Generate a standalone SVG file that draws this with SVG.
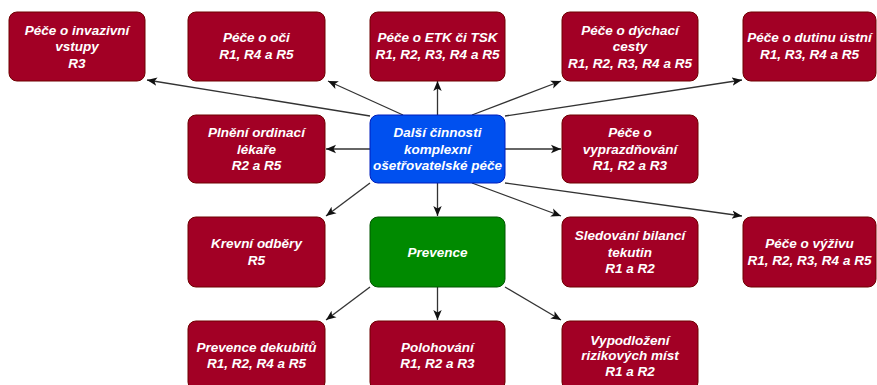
<svg xmlns="http://www.w3.org/2000/svg" width="877" height="385" viewBox="0 0 877 385">
  <style>
    .box { stroke-width: 1; }
    .red { fill: #a20025; stroke: #6f0000; }
    .blue { fill: #0050ef; stroke: #001dbc; }
    .green { fill: #008a00; stroke: #005700; }
    .lbl { font-family: "Liberation Sans", Arial, sans-serif; font-size: 13.5px; font-weight: bold; font-style: italic; fill: #ffffff; text-anchor: middle; }
    .edge { stroke: #333333; stroke-width: 1.3; fill: none; marker-end: url(#arrow); }
  </style>
  <defs>
    <marker id="arrow" markerUnits="userSpaceOnUse" markerWidth="12" markerHeight="10" refX="10" refY="5" orient="auto">
      <path d="M0,0.8 L10,5 L0,9.2 L2.5,5 Z" fill="#111111"/>
    </marker>
  </defs>
  <rect width="877" height="385" fill="#ffffff"/>

  <!-- connectors -->
  <g id="connectors">
    <line class="edge" x1="370" y1="116" x2="147" y2="80"/>
    <line class="edge" x1="403" y1="115" x2="328" y2="81"/>
    <line class="edge" x1="437.5" y1="115" x2="437.5" y2="81"/>
    <line class="edge" x1="472" y1="115" x2="561" y2="81"/>
    <line class="edge" x1="505" y1="116" x2="742" y2="80"/>
    <line class="edge" x1="370" y1="149" x2="326" y2="149"/>
    <line class="edge" x1="505" y1="149" x2="561" y2="149"/>
    <line class="edge" x1="370" y1="183" x2="326" y2="216"/>
    <line class="edge" x1="437.5" y1="183" x2="437.5" y2="216"/>
    <line class="edge" x1="472" y1="183" x2="561" y2="216"/>
    <line class="edge" x1="505" y1="183" x2="742" y2="216"/>
    <line class="edge" x1="370" y1="287" x2="326" y2="320"/>
    <line class="edge" x1="437.5" y1="287" x2="437.5" y2="320"/>
    <line class="edge" x1="505" y1="287" x2="561" y2="320"/>
  </g>

  <!-- row 1 -->
  <g id="invazivni-vstupy">
    <rect class="box red" x="9" y="12" width="136" height="69" rx="8"/>
    <text class="lbl"><tspan x="77" y="34.5">Péče o invazivní</tspan><tspan x="77" y="51">vstupy</tspan><tspan x="77" y="67.5">R3</tspan></text>
  </g>
  <g id="oci">
    <rect class="box red" x="188" y="12" width="137" height="69" rx="8"/>
    <text class="lbl"><tspan x="256.5" y="42">Péče o oči</tspan><tspan x="256.5" y="58.5">R1, R4 a R5</tspan></text>
  </g>
  <g id="etk-tsk">
    <rect class="box red" x="370" y="12" width="135" height="69" rx="8"/>
    <text class="lbl"><tspan x="437.5" y="42">Péče o ETK či TSK</tspan><tspan x="437.5" y="58.5">R1, R2, R3, R4 a R5</tspan></text>
  </g>
  <g id="dychaci-cesty">
    <rect class="box red" x="562" y="12" width="136" height="69" rx="8"/>
    <text class="lbl"><tspan x="630" y="34.5">Péče o dýchací</tspan><tspan x="630" y="51">cesty</tspan><tspan x="630" y="67.5">R1, R2, R3, R4 a R5</tspan></text>
  </g>
  <g id="dutina-ustni">
    <rect class="box red" x="743" y="12" width="133" height="69" rx="8"/>
    <text class="lbl"><tspan x="809.5" y="42">Péče o dutinu ústní</tspan><tspan x="809.5" y="58.5">R1, R3, R4 a R5</tspan></text>
  </g>

  <!-- row 2 -->
  <g id="ordinace-lekare">
    <rect class="box red" x="188" y="115" width="137" height="68" rx="8"/>
    <text class="lbl"><tspan x="256.5" y="137">Plnění ordinací</tspan><tspan x="256.5" y="153.5">lékaře</tspan><tspan x="256.5" y="170">R2 a R5</tspan></text>
  </g>
  <g id="dalsi-cinnosti">
    <rect class="box blue" x="370" y="115" width="135" height="68" rx="8"/>
    <text class="lbl"><tspan x="437.5" y="137">Další činnosti</tspan><tspan x="437.5" y="153.5">komplexní</tspan><tspan x="437.5" y="170">ošetřovatelské péče</tspan></text>
  </g>
  <g id="vyprazdnovani">
    <rect class="box red" x="562" y="115" width="136" height="68" rx="8"/>
    <text class="lbl"><tspan x="630" y="137">Péče o</tspan><tspan x="630" y="153.5">vyprazdňování</tspan><tspan x="630" y="170">R1, R2 a R3</tspan></text>
  </g>

  <!-- row 3 -->
  <g id="krevni-odbery">
    <rect class="box red" x="188" y="217" width="137" height="70" rx="8"/>
    <text class="lbl"><tspan x="256.5" y="248">Krevní odběry</tspan><tspan x="256.5" y="264.5">R5</tspan></text>
  </g>
  <g id="prevence">
    <rect class="box green" x="370" y="217" width="135" height="70" rx="8"/>
    <text class="lbl"><tspan x="437.5" y="256.5">Prevence</tspan></text>
  </g>
  <g id="bilance-tekutin">
    <rect class="box red" x="562" y="217" width="136" height="70" rx="8"/>
    <text class="lbl"><tspan x="630" y="240">Sledování bilancí</tspan><tspan x="630" y="256.5">tekutin</tspan><tspan x="630" y="273">R1 a R2</tspan></text>
  </g>
  <g id="vyziva">
    <rect class="box red" x="743" y="217" width="133" height="70" rx="8"/>
    <text class="lbl"><tspan x="809.5" y="248">Péče o výživu</tspan><tspan x="809.5" y="264.5">R1, R2, R3, R4 a R5</tspan></text>
  </g>

  <!-- row 4 -->
  <g id="prevence-dekubitu">
    <rect class="box red" x="188" y="321" width="137" height="69" rx="8"/>
    <text class="lbl"><tspan x="256.5" y="351.5">Prevence dekubitů</tspan><tspan x="256.5" y="368">R1, R2, R4 a R5</tspan></text>
  </g>
  <g id="polohovani">
    <rect class="box red" x="370" y="321" width="135" height="69" rx="8"/>
    <text class="lbl"><tspan x="437.5" y="351.5">Polohování</tspan><tspan x="437.5" y="368">R1, R2 a R3</tspan></text>
  </g>
  <g id="vypodlozeni">
    <rect class="box red" x="562" y="321" width="136" height="69" rx="8"/>
    <text class="lbl"><tspan x="630" y="344.5">Vypodložení</tspan><tspan x="630" y="360">rizikových míst</tspan><tspan x="630" y="375.5">R1 a R2</tspan></text>
  </g>
</svg>
